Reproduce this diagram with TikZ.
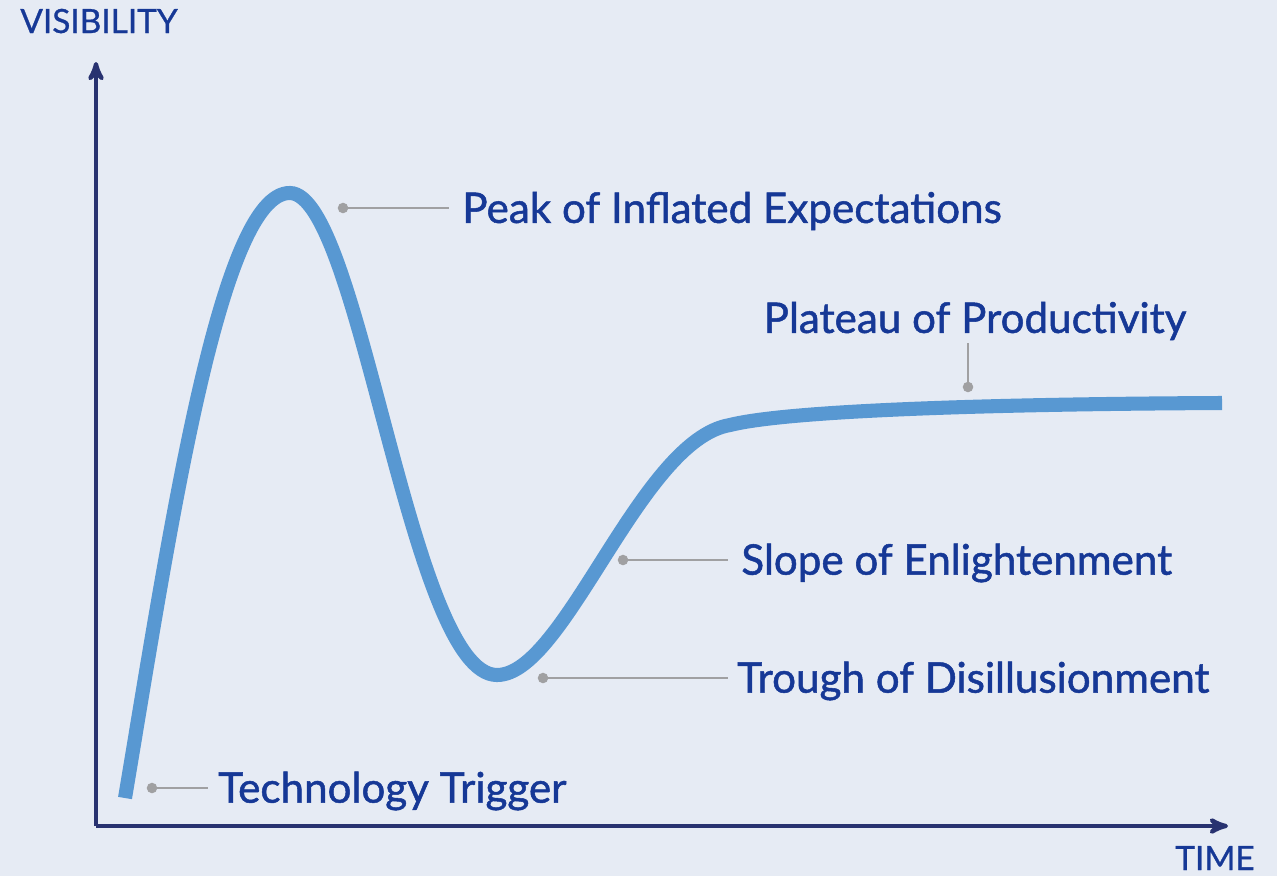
\documentclass[tikz,border=0pt]{standalone}
\usepackage{fontspec}
\setmainfont{Lato}
\usetikzlibrary{arrows,positioning}

\definecolor{bgcol}{RGB}{230,235,244}
\definecolor{axiscol}{RGB}{40,50,112}
\definecolor{textcol}{RGB}{22,56,150}
\definecolor{curvecol}{RGB}{88,152,210}
\definecolor{leadcol}{RGB}{160,160,162}

\tikzset{
  phase/.style={text=textcol,font=\fontsize{24}{28}\selectfont\addfontfeature{FakeBold=1.2},inner sep=0pt,yshift=-1.7pt},
  axislabel/.style={text=textcol,font=\fontsize{19}{22}\selectfont\addfontfeature{FakeBold=0.8},inner sep=0pt},
  lead/.style={draw=leadcol,line width=1.6pt},
  leaddot/.style={fill=leadcol,circle,inner sep=0pt,minimum size=6pt}
}

\begin{document}
\begin{tikzpicture}[x=0.02cm,y=-0.02cm,>=stealth',node distance=7mm]

            % background and frame size
            \fill[bgcol] (0,0) rectangle (1277,876);
            \useasboundingbox (0,0) rectangle (1277,876);

            % axes
            \coordinate (o) at (96,826);
            \coordinate (ytop) at (96,62);
            \coordinate (xend) at (1228,826);
            \draw[axiscol,line width=2.4pt,->] (o) -- (ytop);
            \draw[axiscol,line width=2.4pt,->] (o) -- (xend);
            \node[axislabel,anchor=base west] (vis) at (20,33) {VISIBILITY};
            \node[axislabel,anchor=base east] (time) at (1255,870) {TIME};

            % hype curve
            \draw[curvecol,line width=8pt]
                (125,798) .. controls (170,530) and (220,192) .. (290,193)
                          .. controls (360,194) and (410,675) .. (497,675)
                          .. controls (565,675) and (640,440) .. (730,425)
                          .. controls (790,410) and (1000,404) .. (1222,403);

            % leaders and labels
            \node[leaddot] (d1) at (152,788) {};
            \coordinate (e1) at (208,788);
            \draw[lead] (d1.center) -- (e1);
            \node[phase,anchor=west] (trigger) [right=10 of e1] {Technology Trigger};

            \node[leaddot] (d2) at (343,208) {};
            \coordinate (e2) at (449,208);
            \draw[lead] (d2.center) -- (e2);
            \node[phase,anchor=west] (peak) [right=13 of e2] {Peak of Inflated Expectations};

            \node[leaddot] (d3) at (543,678) {};
            \coordinate (e3) at (728,678);
            \draw[lead] (d3.center) -- (e3);
            \node[phase,anchor=west] (trough) [right=9 of e3] {Trough of Disillusionment};

            \node[leaddot] (d4) at (623,560) {};
            \coordinate (e4) at (728,560);
            \draw[lead] (d4.center) -- (e4);
            \node[phase,anchor=west] (slope) [right=13 of e4] {Slope of Enlightenment};

            \node[leaddot] (d5) at (968,387) {};
            \coordinate (e5) at (968,343);
            \draw[lead] (d5.center) -- (e5);
            \node[phase] (plateau) at (975,318) {Plateau of Productivity};

\end{tikzpicture}
\end{document}
